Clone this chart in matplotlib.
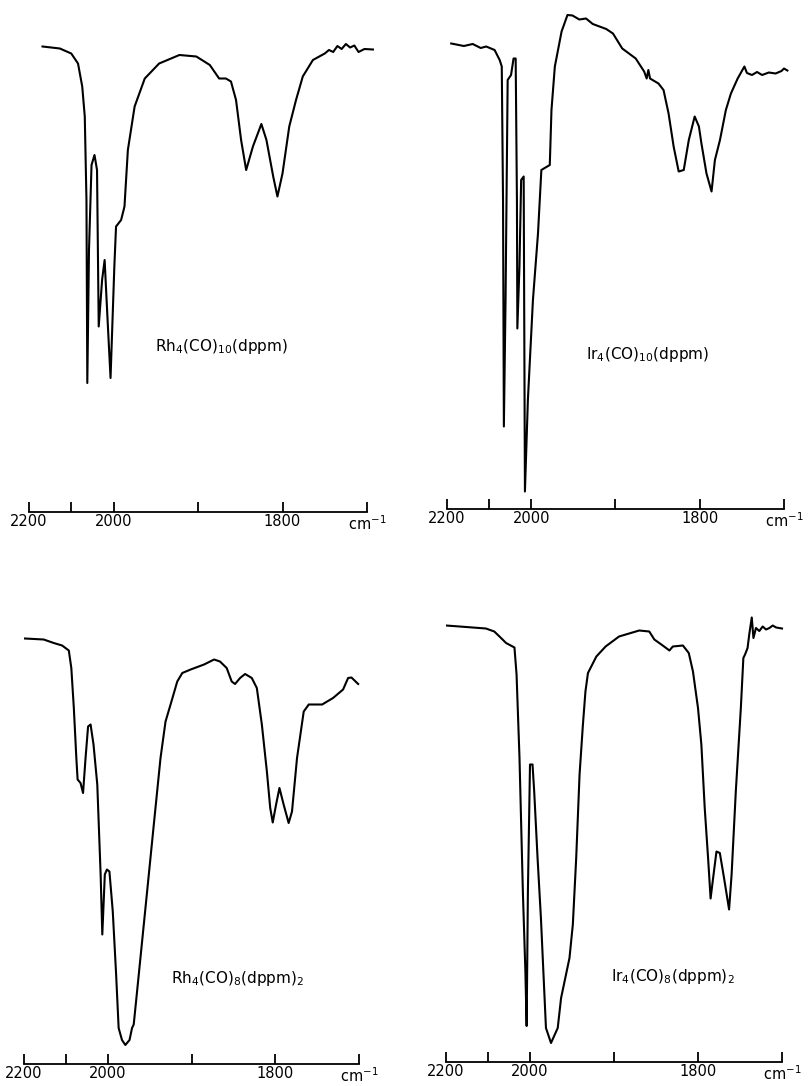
import numpy as np
import matplotlib
matplotlib.use("Agg")
import matplotlib.pyplot as plt
from matplotlib.ticker import FixedLocator, FixedFormatter

# Spectra: wavenumber (cm-1) and transmittance (arbitrary %)
rh10_wn = [2168, 2127, 2100, 2084, 2074, 2068, 2064, 2062, 2058, 2052, 2045, 2039,
           2035, 2027, 2021, 2014, 2007, 1999, 1997, 1991, 1987, 1983, 1975, 1963,
           1946, 1922, 1902, 1886, 1875, 1867, 1861, 1855, 1849, 1843, 1835, 1825,
           1819, 1811, 1806, 1800, 1792, 1784, 1776, 1764, 1750, 1745, 1740, 1735,
           1730, 1725, 1720, 1715, 1710, 1703, 1693]
rh10_t = [93.1, 92.7, 91.7, 89.7, 85.1, 79.1, 62.4, 25.8, 52.4, 69.4, 71.4, 68.4,
          37.1, 46.4, 50.4, 38.4, 26.8, 49.1, 57.1, 58.4, 61.1, 72.4, 81.1, 86.7,
          89.7, 91.4, 91.1, 89.4, 86.7, 86.7, 86.1, 82.4, 74.4, 68.4, 73.1, 77.6,
          74.4, 67.1, 63.1, 67.7, 77.1, 82.4, 87.1, 90.4, 91.7, 92.4, 92.0, 93.2,
          92.6, 93.6, 92.9, 93.3, 92.0, 92.6, 92.5]

ir10_wn = [2190, 2160, 2139, 2120, 2107, 2087, 2075, 2070, 2067, 2065, 2061, 2056,
           2048, 2042, 2037, 2034, 2033, 2028, 2024, 2018, 2015, 2008, 1998, 1992,
           1988, 1978, 1976, 1972, 1964, 1957, 1951, 1943, 1935, 1927, 1919, 1911,
           1903, 1892, 1876, 1866, 1863, 1861, 1859, 1849, 1843, 1837, 1831, 1825,
           1819, 1813, 1806, 1801, 1798, 1792, 1786, 1782, 1776, 1769, 1763, 1755,
           1747, 1744, 1738, 1732, 1726, 1718, 1710, 1703, 1700, 1696]
ir10_t = [93.1, 92.6, 93.0, 92.2, 92.5, 91.8, 89.8, 88.5, 61.8, 16.5, 41.8, 85.8,
          86.8, 90.1, 90.1, 61.8, 36.1, 48.5, 65.8, 66.5, 3.5, 21.8, 41.8, 55.1,
          67.8, 68.8, 79.8, 88.5, 95.5, 98.8, 98.7, 97.9, 98.1, 97.0, 96.5, 96.0,
          95.1, 92.1, 90.1, 87.5, 86.1, 87.8, 86.1, 85.1, 83.8, 79.1, 72.5, 67.5,
          67.8, 73.8, 78.5, 76.5, 73.1, 67.1, 63.5, 69.8, 73.8, 79.8, 83.1, 86.1,
          88.5, 87.2, 86.8, 87.4, 86.8, 87.3, 87.1, 87.6, 88.1, 87.7]

rh8_wn = [2198, 2153, 2129, 2109, 2093, 2087, 2081, 2075, 2072, 2065, 2059, 2053,
          2047, 2041, 2034, 2025, 2017, 2013, 2007, 2002, 1998, 1994, 1990, 1987,
          1983, 1979, 1974, 1971, 1969, 1965, 1953, 1945, 1937, 1931, 1925, 1917,
          1911, 1901, 1885, 1873, 1866, 1858, 1852, 1848, 1842, 1836, 1828, 1822,
          1816, 1810, 1806, 1803, 1799, 1795, 1790, 1784, 1780, 1774, 1766, 1760,
          1744, 1731, 1719, 1713, 1709, 1701]
rh8_t = [85.1, 84.9, 84.2, 83.7, 82.7, 79.2, 71.2, 61.2, 56.9, 56.2, 54.2, 61.2,
         67.5, 67.9, 63.9, 55.9, 37.9, 25.9, 37.9, 38.9, 38.5, 30.5, 17.9, 7.2,
         4.8, 3.8, 4.8, 7.2, 7.9, 14.5, 34.5, 47.9, 61.2, 68.5, 71.9, 76.5,
         78.2, 78.9, 79.9, 80.9, 80.5, 79.2, 76.5, 76.0, 77.2, 78.0, 77.2, 75.2,
         67.9, 58.5, 51.2, 48.3, 51.9, 55.2, 51.9, 48.2, 50.5, 61.2, 70.5, 71.9,
         71.9, 73.2, 74.9, 77.2, 77.3, 76.0]

ir8_wn = [2200, 2152, 2105, 2085, 2069, 2057, 2037, 2032, 2025, 2017, 2011, 2008,
          2005, 2000, 1997, 1995, 1991, 1987, 1983, 1981, 1975, 1967, 1963, 1953,
          1949, 1945, 1941, 1937, 1934, 1931, 1921, 1910, 1894, 1870, 1858, 1852,
          1842, 1834, 1830, 1818, 1811, 1806, 1800, 1796, 1792, 1788, 1785, 1782,
          1778, 1774, 1769, 1763, 1760, 1755, 1749, 1746, 1744, 1741, 1739, 1736,
          1734, 1731, 1727, 1723, 1719, 1715, 1711, 1707, 1700]
ir8_t = [87.3, 87.0, 86.7, 86.1, 84.8, 83.8, 82.9, 77.5, 60.8, 34.1, 18.1, 7.2,
         34.1, 59.5, 59.5, 54.1, 40.8, 28.8, 14.1, 6.8, 3.8, 6.8, 12.8, 20.8,
         27.5, 40.8, 57.5, 67.5, 74.1, 77.8, 81.1, 83.1, 85.1, 86.3, 86.1, 84.5,
         83.3, 82.3, 83.1, 83.3, 81.8, 78.1, 70.8, 63.5, 50.8, 40.8, 32.7, 36.8,
         42.1, 41.8, 36.8, 30.5, 37.5, 54.1, 70.8, 80.8, 81.5, 82.8, 85.5, 88.9,
         84.8, 86.8, 86.2, 87.1, 86.5, 86.8, 87.3, 86.9, 86.7]

tick_wn = [2200, 2100, 2000, 1900, 1800, 1700]
tick_labels = ["2200", "", "2000", "", "1800", "cm$^{-1}$"]

names = [r"Rh$_4$(CO)$_{10}$(dppm)", r"Ir$_4$(CO)$_{10}$(dppm)",
         r"Rh$_4$(CO)$_8$(dppm)$_2$", r"Ir$_4$(CO)$_8$(dppm)$_2$"]


# chart paper: 2200-2000 is drawn at half the scale of 2000-1700
def fwd(w):
    w = np.asarray(w, dtype=float)
    return np.where(w >= 2000, 2000 + (w - 2000) / 2.0, w)


def inv(u):
    u = np.asarray(u, dtype=float)
    return np.where(u >= 2000, 2000 + 2.0 * (u - 2000), u)


W, H = 812, 1086
fig = plt.figure(figsize=(W / 100, H / 100), dpi=100)

# (left px of 2200 tick, px per scale unit, axis line px, label pos in data units)
panels = [
    (29, 0.845, 512, rh10_wn, rh10_t, names[0], (1951, 33)),
    (447, 0.8425, 509, ir10_wn, ir10_t, names[1], (1935, 31)),
    (24, 0.8375, 1064, rh8_wn, rh8_t, names[2], (1925, 17.2)),
    (446, 0.84, 1062, ir8_wn, ir8_t, names[3], (1904, 17.0)),
]

for left, ppu, base, wn, tr, name, lab in panels:
    width = 410 * ppu
    ax = fig.add_axes([left / W, 1 - base / H, width / W, 500 / H])
    ax.set_xscale("function", functions=(fwd, inv))
    ax.plot(wn, tr, color="black", lw=1.5)
    ax.set_xlim(2200, 1690)
    ax.set_ylim(0, 100)
    ax.patch.set_alpha(0)
    for s in ["top", "left", "right"]:
        ax.spines[s].set_visible(False)
    ax.spines["bottom"].set_bounds(2200, 1700)
    ax.spines["bottom"].set_linewidth(1.3)
    ax.xaxis.set_major_locator(FixedLocator(tick_wn))
    ax.xaxis.set_major_formatter(FixedFormatter(tick_labels))
    ax.xaxis.set_minor_locator(FixedLocator([]))
    ax.tick_params(axis="x", direction="in", length=7, width=1.3, pad=1.5, labelsize=10.5)
    ax.set_yticks([])
    ax.text(lab[0], lab[1], name, fontsize=11, va="center", ha="left")

fig.savefig("out.png", dpi=100)
